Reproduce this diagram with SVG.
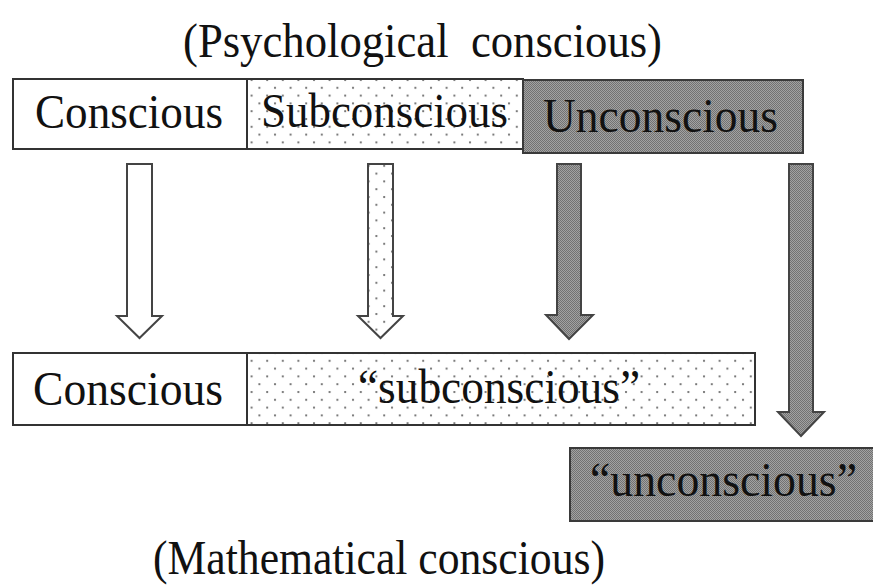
<svg xmlns="http://www.w3.org/2000/svg" width="873" height="587" viewBox="0 0 873 587">
  <style>
    .t { font-family: "Liberation Serif", "Times New Roman", serif; font-size: 48px; fill: #111; }
    .box { stroke: #333; stroke-width: 2; }
    .white { fill: #fff; }
    .dots { fill: url(#dotPat); }
    .gray { fill: url(#grayPat); stroke: #3a3a3a; }
    .arrow { stroke: #444; stroke-width: 2; stroke-linejoin: miter; }
  </style>
  <defs>
    <pattern id="dotPat" patternUnits="userSpaceOnUse" width="15.6" height="15.6">
      <rect width="15.6" height="15.6" fill="#fff"/>
      <circle cx="2" cy="2" r="1.1" fill="#666"/>
      <circle cx="9.8" cy="9.8" r="1.1" fill="#666"/>
    </pattern>
    <pattern id="grayPat" patternUnits="userSpaceOnUse" width="2" height="2">
      <rect width="2" height="2" fill="#a2a2a2"/>
      <rect width="1" height="1" fill="#727272"/>
      <rect x="1" y="1" width="1" height="1" fill="#727272"/>
    </pattern>
  </defs>
  <rect width="873" height="587" fill="#fff"/>

  <text id="title-top" class="t" x="183" y="57" textLength="479" lengthAdjust="spacingAndGlyphs" xml:space="preserve">(Psychological  conscious)</text>

  <g id="node-conscious-top">
    <rect class="box white" x="13" y="79" width="234" height="70"/>
    <text class="t" x="35" y="128" textLength="188" lengthAdjust="spacingAndGlyphs">Conscious</text>
  </g>
  <g id="node-subconscious-top">
    <rect class="box dots" x="247" y="79" width="276" height="70"/>
    <text class="t" x="261" y="127" textLength="247" lengthAdjust="spacingAndGlyphs">Subconscious</text>
  </g>
  <g id="node-unconscious-top">
    <rect class="box gray" x="523" y="80" width="280" height="73"/>
    <text class="t" x="543" y="132" textLength="235" lengthAdjust="spacingAndGlyphs" fill="#222">Unconscious</text>
  </g>

  <g id="connectors">
    <polygon class="arrow" fill="#fff" points="127,164 152,164 152,316 162,316 139.5,338 117,316 127,316"/>
    <polygon class="arrow" fill="url(#dotPat)" points="368,164 393,164 393,316 403,316 380.5,338 358,316 368,316"/>
    <polygon class="arrow" fill="url(#grayPat)" points="557,164 581,164 581,315 593,315 569,339 546,315 557,315"/>
    <polygon class="arrow" fill="url(#grayPat)" points="789,164 813,164 813,412 824,412 801,436 778,412 789,412"/>
  </g>

  <g id="node-conscious-bottom">
    <rect class="box white" x="13" y="353" width="234" height="72"/>
    <text class="t" x="33" y="405" textLength="190" lengthAdjust="spacingAndGlyphs">Conscious</text>
  </g>
  <g id="node-subconscious-bottom">
    <rect class="box dots" x="247" y="353" width="508" height="72"/>
    <text class="t" x="358" y="403" textLength="282" lengthAdjust="spacingAndGlyphs">“subconscious”</text>
  </g>
  <g id="node-unconscious-bottom">
    <rect class="box gray" x="570" y="448" width="312" height="73"/>
    <text class="t" x="590" y="496" textLength="267" lengthAdjust="spacingAndGlyphs" fill="#222">“unconscious”</text>
  </g>

  <text id="title-bottom" class="t" x="153" y="574" textLength="452" lengthAdjust="spacingAndGlyphs">(Mathematical conscious)</text>
</svg>
